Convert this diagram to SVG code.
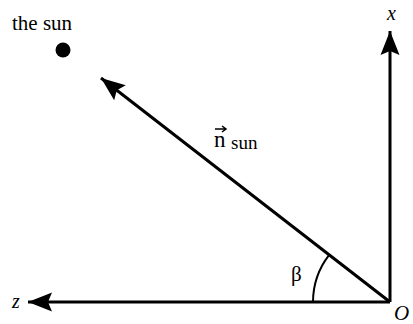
<svg xmlns="http://www.w3.org/2000/svg" width="413" height="324" viewBox="0 0 413 324">
<style>
.ln{stroke:#000;stroke-width:3;fill:none}
text{font-family:"Liberation Serif","DejaVu Serif","Times New Roman",serif;fill:#000}
.it{font-style:italic}
</style>
<defs>
<marker id="ah" markerUnits="userSpaceOnUse" markerWidth="26" markerHeight="22" refX="24" refY="11" orient="auto">
<path d="M0,1.5 L24,11 L0,20.5 L4,11 Z" fill="#000"/>
</marker>
</defs>
<rect width="413" height="324" fill="#fff"/>
<g id="connectors">
<line class="ln" x1="390" y1="302" x2="390" y2="31" marker-end="url(#ah)"/>
<line class="ln" x1="390" y1="302" x2="28" y2="302" marker-end="url(#ah)"/>
<line class="ln" x1="390" y1="302" x2="101" y2="78" marker-end="url(#ah)"/>
<path d="M313,302 A77,77 0 0 1 329.2,254.8" stroke="#000" stroke-width="2" fill="none"/>
</g>
<g id="sun">
<circle cx="63" cy="50" r="7.5" fill="#000"/>
<text x="12" y="30" font-size="21">the sun</text>
</g>
<g id="labels">
<text class="it" x="387" y="20" font-size="20">x</text>
<text class="it" x="12" y="308" font-size="20">z</text>
<text class="it" x="394" y="320" font-size="21">O</text>
<text x="291" y="281" font-size="21">β</text>
<text x="214" y="147" font-size="23">n</text>
<path d="M215,129 L226,129 M222,126 L226,129 L222,132" stroke="#000" stroke-width="1.5" fill="none"/>
<text x="231" y="149" font-size="19">sun</text>
</g>
</svg>
